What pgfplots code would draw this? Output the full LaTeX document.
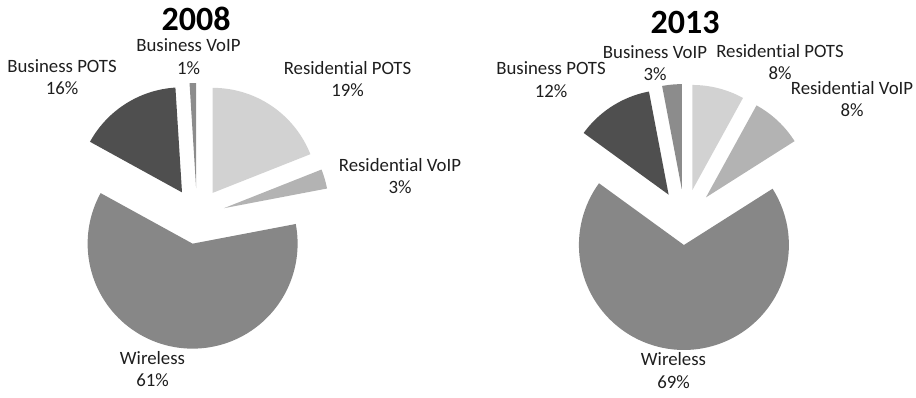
\documentclass[border=0pt]{standalone}
\usepackage{pgfplots}
\pgfplotsset{compat=1.18}
\usepackage{fontspec}
\setmainfont{Carlito}[Ligatures={NoCommon,NoContextual}]
\definecolor{resPOTS}{HTML}{D2D2D2}
\definecolor{resVoIP}{HTML}{B3B3B3}
\definecolor{wireless}{HTML}{878787}
\definecolor{busPOTS}{HTML}{4F4F4F}
\definecolor{busVoIP}{HTML}{8C8C8C}
\definecolor{txt}{HTML}{1E1E1E}
\tikzset{lbl/.style={font=\fontsize{18.8}{22.5}\selectfont, text=txt, align=center, inner sep=0pt},
         ttl/.style={font=\fontsize{34}{40}\selectfont\bfseries, text=black, inner sep=0pt, text depth=0pt}}

% pie set-up: centre x, centre y, radius (axis units = pixels)
\newcommand\setpie[3]{\xdef\pcx{#1}\xdef\pcy{#2}\xdef\pr{#3}\xdef\pcum{0}}
% slice: value (%), explode distance, colour
\newcommand\pieslice[3]{%
  \pgfmathsetmacro\aA{\pcum*3.6}%
  \pgfmathsetmacro\aB{(\pcum+#1)*3.6}%
  \pgfmathsetmacro\aM{(\pcum+#1/2)*3.6}%
  \pgfmathsetmacro\px{\pcx+#2*sin(\aM)}%
  \pgfmathsetmacro\py{\pcy-#2*cos(\aM)}%
  \pgfmathsetmacro\newcum{\pcum+#1}\xdef\pcum{\newcum}%
  \edef\tmp{\noexpand\addplot[fill=#3, draw=none, domain=\aA:\aB, samples=90]
     ({\px+\pr*sin(x)},{\py-\pr*cos(x)}) -- (axis cs:\px,\py) -- cycle;}%
  \tmp}

\begin{document}
\begin{tikzpicture}
\begin{axis}[
  scale only axis, width=916pt, height=397pt,
  xmin=0, xmax=916, ymin=0, ymax=397, y dir=reverse,
  hide axis, clip=false,
]
% ---- 2008 ----
\setpie{197}{216}{105}
\pieslice{19}{28}{resPOTS}
\pieslice{3}{28}{resVoIP}
\pieslice{61}{28}{wireless}
\pieslice{16}{28}{busPOTS}
\pieslice{1}{28}{busVoIP}
% ---- 2013 ----
\setpie{684.7}{220}{105}
\pieslice{8}{31}{resPOTS}
\pieslice{8}{31}{resVoIP}
\pieslice{69}{25}{wireless}
\pieslice{12}{30}{busPOTS}
\pieslice{3}{31}{busVoIP}

% titles
\node[ttl] at (axis cs:196,19) {2008};
\node[ttl] at (axis cs:685,22.5) {2013};
% labels 2008
\node[lbl] at (axis cs:188.5,56.5) {Business VoIP\\1\%};
\node[lbl] at (axis cs:62,77) {Business POTS\\16\%};
\node[lbl] at (axis cs:347.5,79) {Residential POTS\\19\%};
\node[lbl] at (axis cs:400,176) {Residential VoIP\\3\%};
\node[lbl] at (axis cs:152.5,369) {Wireless\\61\%};
% labels 2013
\node[lbl] at (axis cs:655,63) {Business VoIP\\3\%};
\node[lbl] at (axis cs:551,79.5) {Business POTS\\12\%};
\node[lbl] at (axis cs:780,62) {Residential POTS\\8\%};
\node[lbl] at (axis cs:852,99) {Residential VoIP\\8\%};
\node[lbl] at (axis cs:673.5,370.5) {Wireless\\69\%};
\end{axis}
\pgfresetboundingbox
\path (current axis.south west) rectangle (current axis.north east);
\end{tikzpicture}
\end{document}
